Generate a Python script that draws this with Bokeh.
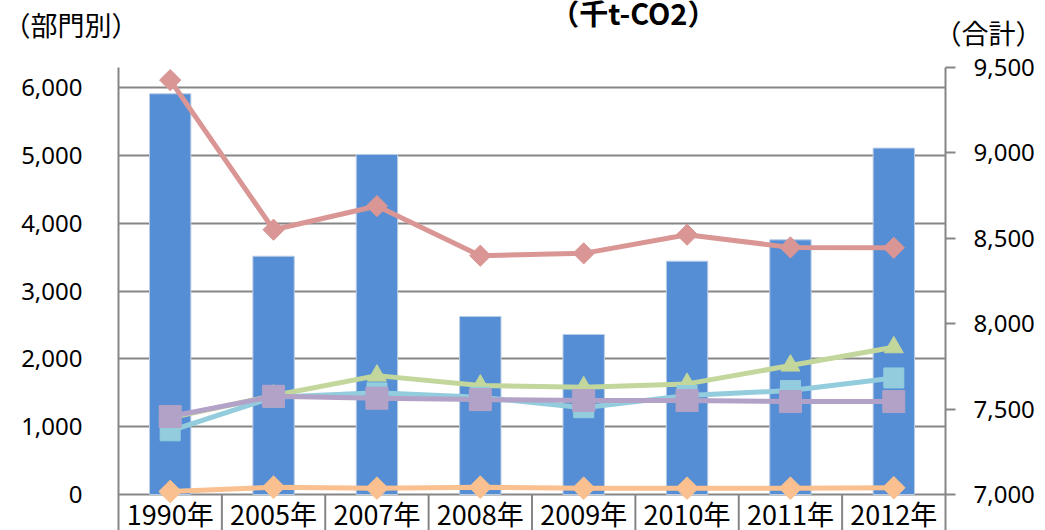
from bokeh.plotting import figure
from bokeh.layouts import column
from bokeh.models import Range1d, LinearAxis, FixedTicker, NumeralTickFormatter
from bokeh.core.properties import value
from bokeh.embed import file_html
from bokeh.resources import INLINE
import math

# ---- data ----
years = ["1990年", "2005年", "2007年", "2008年", "2009年", "2010年", "2011年", "2012年"]
total = [9346, 8395, 8991, 8042, 7937, 8366, 8491, 9028]          # 合計 (right axis, bars)
sector_red = [6114, 3907, 4256, 3523, 3558, 3833, 3646, 3640]
sector_green = [1130, 1460, 1754, 1607, 1582, 1632, 1902, 2172]
sector_cyan = [940, 1435, 1500, 1435, 1280, 1460, 1533, 1720]
sector_purple = [1150, 1449, 1420, 1400, 1386, 1386, 1371, 1371]
sector_orange = [44, 108, 93, 108, 93, 93, 93, 100]
left_ticks = [0, 1000, 2000, 3000, 4000, 5000, 6000]
right_ticks = [7000, 7500, 8000, 8500, 9000, 9500]
left_max = 6300
header_left = "（部門別）"
header_mid = "（千t-CO2）"
header_right = "（合計）"

# ---- layout constants (pixels) ----
W = 1045
HEAD_H = 48
BORDER_L = 116
BORDER_R = 97
FRAME_TOP = 19
PLOT_H = 427          # height of the value area
STRIP_H = 36          # category label strip below the value area
GRAY = "#868686"
JP = "Noto Sans CJK JP"
xs = list(range(len(years)))

# ---- header strip (texts above the chart) ----
head = figure(width=W, height=HEAD_H, x_range=Range1d(BORDER_L, W - BORDER_R),
              y_range=Range1d(HEAD_H, 0), output_backend="svg", toolbar_location=None,
              min_border_left=BORDER_L, min_border_right=BORDER_R,
              min_border_top=0, min_border_bottom=0)
head.extra_y_ranges = {"up": Range1d(0, HEAD_H)}
head.xaxis.visible = False
head.grid.visible = False
head.outline_line_color = None


def label_axis(ax, tick, text, standoff):
    ax.ticker = FixedTicker(ticks=[tick])
    ax.major_label_overrides = {tick: text}
    ax.major_tick_out = 0
    ax.major_tick_in = 0
    ax.minor_tick_out = 0
    ax.minor_tick_in = 0
    ax.axis_line_color = None
    ax.major_label_text_font = JP
    ax.major_label_text_font_size = "27px"
    ax.major_label_text_color = "black"
    ax.major_label_standoff = standoff


label_axis(head.yaxis[0], 24, header_left, -20)
hr = LinearAxis(y_range_name="up")
label_axis(hr, 41, header_right, -11)
head.add_layout(hr, "right")
head.text(x=[634], y=[11], text=[header_mid], text_align="center", text_baseline="middle",
          text_font=value(JP), text_font_size="29px", text_font_style="bold",
          text_color="black")

# ---- main chart (value area + category strip share one frame) ----
left_min = -left_max * STRIP_H / PLOT_H
right_span = right_ticks[-1] - right_ticks[0]
right_min = right_ticks[0] - right_span * STRIP_H / PLOT_H

p = figure(width=W, height=FRAME_TOP + PLOT_H + STRIP_H, x_range=Range1d(-0.5, 7.5),
           y_range=Range1d(left_min, left_max), output_backend="svg", toolbar_location=None,
           min_border_left=BORDER_L, min_border_right=BORDER_R,
           min_border_top=FRAME_TOP, min_border_bottom=0)
p.extra_y_ranges = {"total": Range1d(right_min, right_ticks[-1])}
p.outline_line_color = None
p.xaxis.visible = False

# bars (total, right axis)
p.vbar(x=xs, top=total, bottom=right_ticks[0], width=0.4, y_range_name="total",
       fill_color="#558ED5", line_color="#B9CDE5", line_width=1)


def series(vals, color, marker, size, angle=0.0):
    p.line(xs, vals, line_color=color, line_width=5)
    p.scatter(xs, vals, marker=marker, size=size, angle=angle,
              fill_color=color, line_color=color)


series(sector_red, "#D99694", "square", 15, math.pi / 4)
series(sector_green, "#C3D69B", "triangle", 19)
series(sector_cyan, "#93CDDD", "square", 20)
series(sector_purple, "#B3A2C7", "square", 22)
series(sector_orange, "#FAC090", "square", 16, math.pi / 4)

# category strip: dividers and labels
bounds = [i + 0.5 for i in xs[:-1]]
p.segment(x0=bounds, y0=[0] * len(bounds), x1=bounds, y1=[left_min] * len(bounds),
          line_color=GRAY, line_width=2)
label_y = -left_max * 19 / PLOT_H
p.text(x=xs, y=[label_y] * len(xs), text=years, text_align="center", text_baseline="alphabetic",
       text_font=value(JP), text_font_size="27px", text_color="black")

# left axis
ya = p.yaxis[0]
ya.ticker = FixedTicker(ticks=left_ticks)
ya.formatter = NumeralTickFormatter(format="0,0")
ya.major_tick_out = 0
ya.major_tick_in = 0
ya.minor_tick_out = 0
ya.minor_tick_in = 0
ya.axis_line_color = GRAY
ya.axis_line_width = 2
ya.major_label_text_font = "Noto Sans"
ya.major_label_text_font_size = "24px"
ya.major_label_text_color = "black"
ya.major_label_standoff = 36

# right axis
ra = LinearAxis(y_range_name="total", ticker=FixedTicker(ticks=right_ticks),
                formatter=NumeralTickFormatter(format="0,0"))
ra.major_tick_out = 10
ra.major_tick_in = 0
ra.minor_tick_out = 0
ra.minor_tick_in = 0
ra.major_tick_line_color = GRAY
ra.major_tick_line_width = 2
ra.axis_line_color = GRAY
ra.axis_line_width = 2
ra.major_label_text_font = "Noto Sans"
ra.major_label_text_font_size = "24px"
ra.major_label_text_color = "black"
ra.major_label_standoff = 18
p.add_layout(ra, "right")

p.xgrid.visible = False
p.ygrid.ticker = FixedTicker(ticks=left_ticks)
p.ygrid.grid_line_color = GRAY
p.ygrid.grid_line_width = 2

layout = column(head, p, spacing=0)
open("out.html", "w").write(file_html(layout, INLINE))
